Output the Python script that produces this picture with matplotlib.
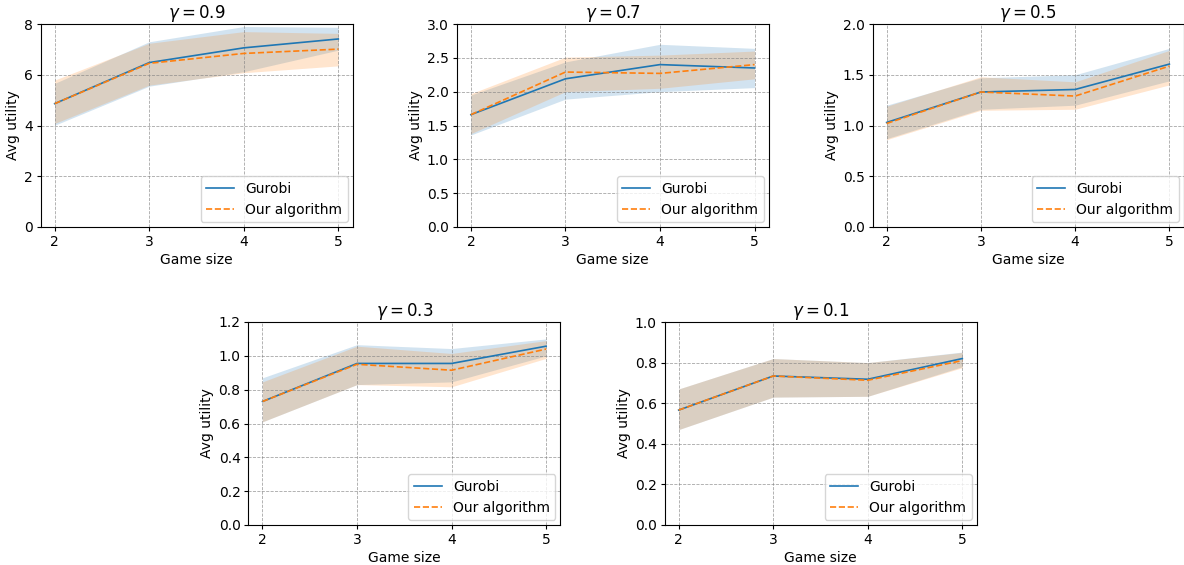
# avg utility vs game size for several gamma values
import matplotlib
matplotlib.use('Agg')
import matplotlib.pyplot as plt

game_sizes = [2, 3, 4, 5]
gammas = [0.9, 0.7, 0.5, 0.3, 0.1]
ylims = [8, 3.0, 2.0, 1.2, 1.0]

# Gurobi mean and band
gurobi_mean = [
    [4.86, 6.48, 7.06, 7.41],
    [1.66, 2.19, 2.40, 2.35],
    [1.03, 1.33, 1.355, 1.605],
    [0.73, 0.955, 0.955, 1.057],
    [0.566, 0.734, 0.718, 0.82],
]
gurobi_low = [
    [4.01, 5.55, 6.12, 6.97],
    [1.36, 1.89, 2.00, 2.06],
    [0.87, 1.16, 1.20, 1.44],
    [0.61, 0.83, 0.846, 1.00],
    [0.47, 0.63, 0.634, 0.78],
]
gurobi_high = [
    [5.66, 7.30, 7.90, 7.87],
    [1.95, 2.44, 2.70, 2.64],
    [1.20, 1.47, 1.50, 1.76],
    [0.87, 1.066, 1.043, 1.10],
    [0.67, 0.82, 0.80, 0.852],
]

# our algorithm mean and band
ours_mean = [
    [4.86, 6.45, 6.84, 7.01],
    [1.66, 2.29, 2.27, 2.40],
    [1.02, 1.33, 1.29, 1.585],
    [0.73, 0.95, 0.915, 1.04],
    [0.566, 0.734, 0.713, 0.81],
]
ours_low = [
    [4.08, 5.59, 6.08, 6.35],
    [1.38, 2.00, 2.05, 2.19],
    [0.86, 1.15, 1.16, 1.40],
    [0.61, 0.83, 0.817, 0.985],
    [0.47, 0.63, 0.634, 0.775],
]
ours_high = [
    [5.79, 7.24, 7.70, 7.63],
    [1.97, 2.51, 2.54, 2.60],
    [1.19, 1.48, 1.43, 1.74],
    [0.846, 1.057, 1.014, 1.09],
    [0.67, 0.82, 0.80, 0.85],
]

W, H = 1184, 565
# axes boxes in pixels: left, top, width, height
boxes = [
    (40.5, 24, 312, 203),
    (456.7, 24, 312, 203),
    (872.5, 24, 311, 203),
    (248.3, 322, 312, 203),
    (664.5, 322, 312, 203),
]

plt.rcParams['xtick.major.size'] = 2.8
plt.rcParams['ytick.major.size'] = 2.8
plt.rcParams['xtick.major.pad'] = 2.8
plt.rcParams['ytick.major.pad'] = 2.8
plt.rcParams['axes.labelpad'] = 3.0
plt.rcParams['axes.titlepad'] = 4.5

fig = plt.figure(figsize=(W / 100, H / 100), dpi=100)

for i, g in enumerate(gammas):
    l, t, w, h = boxes[i]
    ax = fig.add_axes([l / W, 1 - (t + h) / H, w / W, h / H])
    ax.plot(game_sizes, gurobi_mean[i], color='C0', lw=1.2, label='Gurobi')
    ax.fill_between(game_sizes, gurobi_low[i], gurobi_high[i], color='C0', alpha=0.2, lw=0)
    ax.plot(game_sizes, ours_mean[i], color='C1', lw=1.2, ls='--', label='Our algorithm')
    ax.fill_between(game_sizes, ours_low[i], ours_high[i], color='C1', alpha=0.2, lw=0)
    ax.set_ylim(0, ylims[i])
    ax.set_xticks(game_sizes)
    ax.grid(True, ls='--', color='gray', lw=0.6, alpha=0.7)
    ax.set_title(r'$\gamma = %s$' % g, fontsize=12)
    ax.set_xlabel('Game size')
    ax.set_ylabel('Avg utility')
    ax.legend(loc='lower right', borderaxespad=0.35)

fig.savefig('out.png', dpi=100)
